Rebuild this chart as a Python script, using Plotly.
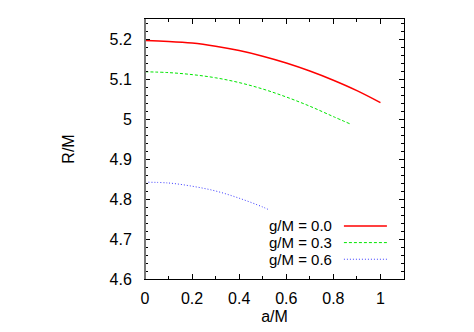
import plotly.graph_objects as go

# a/M values and R/M for each g/M curve
a_g00 = [0.0, 0.1, 0.2, 0.3, 0.4, 0.5, 0.6, 0.7, 0.8, 0.9, 1.0]
r_g00 = [5.196, 5.194, 5.190, 5.182, 5.171, 5.157, 5.140, 5.120, 5.097, 5.071, 5.041]

a_g03 = [0.0, 0.1, 0.2, 0.3, 0.4, 0.5, 0.6, 0.7, 0.8, 0.87]
r_g03 = [5.118, 5.116, 5.111, 5.103, 5.091, 5.075, 5.055, 5.032, 5.006, 4.988]

a_g06 = [0.0, 0.1, 0.2, 0.3, 0.4, 0.5, 0.53]
r_g06 = [4.842, 4.840, 4.832, 4.820, 4.802, 4.780, 4.772]

names = ["g/M = 0.0", "g/M = 0.3", "g/M = 0.6"]

x_ticks = [0, 0.2, 0.4, 0.6, 0.8, 1.0]
x_labels = ["0", "0.2", "0.4", "0.6", "0.8", "1"]
y_ticks = [4.6, 4.7, 4.8, 4.9, 5.0, 5.1, 5.2]
y_labels = ["4.6", "4.7", "4.8", "4.9", "5", "5.1", "5.2"]

styles = [
    dict(color="rgb(255,0,0)", width=1.5),
    dict(color="rgb(0,230,0)", width=1, dash="3px,2px"),
    dict(color="rgb(60,60,255)", width=1, dash="1px,2px"),
]

fig = go.Figure()
for xs, ys, nm, st in zip([a_g00, a_g03, a_g06], [r_g00, r_g03, r_g06], names, styles):
    fig.add_trace(go.Scatter(x=xs, y=ys, mode="lines", name=nm, line=dict(shape="spline", **st),
                             showlegend=False))

# gnuplot-style key: text on the left, line sample on the right
key_y = [0.204, 0.140, 0.076]
for nm, st, ky in zip(names, styles, key_y):
    fig.add_annotation(x=0.726, y=ky, xref="paper", yref="paper", text=nm,
                       showarrow=False, xanchor="right", yanchor="middle",
                       font=dict(size=15, color="black"), borderpad=0)
    fig.add_shape(type="line", xref="paper", yref="paper",
                  x0=0.768, x1=0.934, y0=ky, y1=ky, line=st)

# left border drawn grey and a bit heavier, like the original
fig.add_shape(type="line", xref="paper", yref="paper", x0=0, x1=0, y0=0, y1=1,
              line=dict(color="rgb(120,120,120)", width=2))

axis_common = dict(
    showline=True, linecolor="black", linewidth=1, mirror="allticks",
    ticks="inside", ticklen=5, tickcolor="black", showgrid=False, zeroline=False,
    tickfont=dict(size=16, color="black"), automargin=False,
)

# page body adds an 8px offset at top/left, so the figure is 8px smaller
fig.update_layout(
    width=466, height=324,
    margin=dict(l=137, r=70, t=11, b=53),
    paper_bgcolor="white", plot_bgcolor="white",
    font=dict(family="Liberation Sans, Arial, sans-serif", size=16, color="black"),
    xaxis=dict(range=[0, 1.1], tickvals=x_ticks, ticktext=x_labels,
               minor=dict(ticks="inside", dtick=0.1, ticklen=3, tickcolor="black"),
               title=dict(text="a/M", standoff=4, font=dict(size=16)),
               ticklabelstandoff=5, **axis_common),
    yaxis=dict(range=[4.6, 5.25], tickvals=y_ticks, ticktext=y_labels,
               minor=dict(ticks="inside", dtick=0.02, ticklen=3, tickcolor="black"),
               title=dict(text="R/M", standoff=30, font=dict(size=16)),
               ticklabelstandoff=9, **axis_common),
)

fig.write_html("out.html")
